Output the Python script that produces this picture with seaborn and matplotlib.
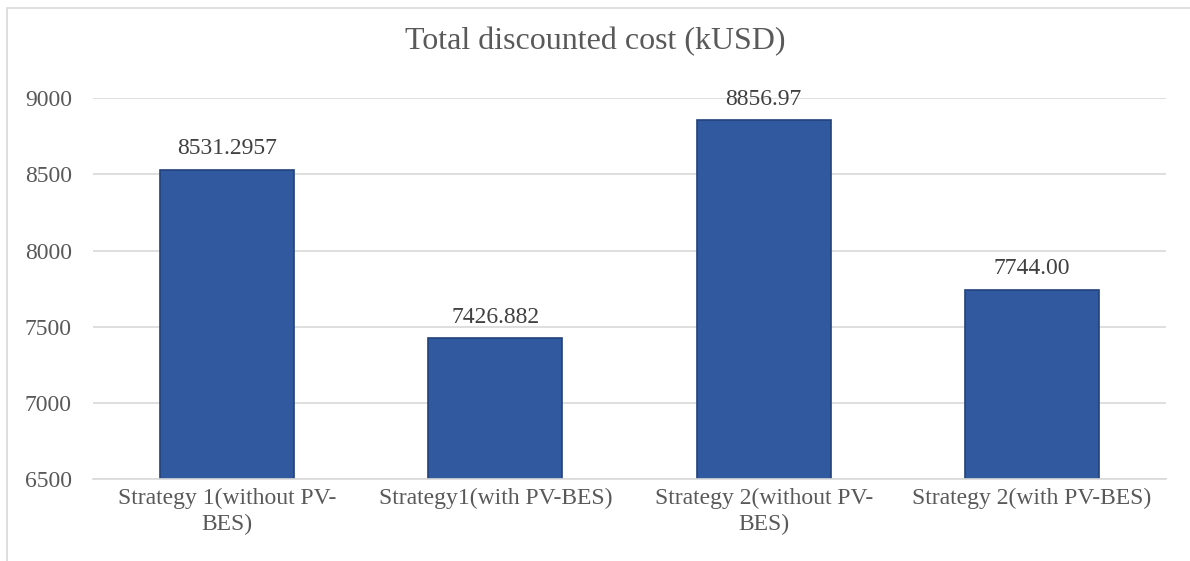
import matplotlib
matplotlib.use("Agg")
import matplotlib.pyplot as plt
import seaborn as sns
import pandas as pd
from matplotlib.patches import Rectangle

categories = ["Strategy 1(without PV-\nBES)", "Strategy1(with PV-BES)",
              "Strategy 2(without PV-\nBES)", "Strategy 2(with PV-BES)"]
costs = [8531.2957, 7426.882, 8856.97, 7744.00]
labels = ["8531.2957", "7426.882", "8856.97", "7744.00"]
yticks = [6500, 7000, 7500, 8000, 8500, 9000]

sns.set_style("white")
plt.rcParams["font.family"] = ["Liberation Serif", "DejaVu Serif"]

df = pd.DataFrame({"strategy": categories, "cost": costs})

fig = plt.figure(figsize=(11.9, 5.61), dpi=100)
ax = fig.add_axes([0.078, 0.146, 0.902, 0.679])

sns.barplot(data=df, x="strategy", y="cost", color="#3159A0", width=0.5,
            edgecolor="#22427A", linewidth=1.2, saturation=1, ax=ax)

for i, (v, t) in enumerate(zip(costs, labels)):
    ax.text(i, v + 100, t, ha="center", va="baseline", fontsize=17, color="#404040")

ax.set_ylim(6500, 9000)
ax.set_yticks(yticks)
ax.yaxis.grid(True, color="#D9D9D9", linewidth=1.2)
ax.set_axisbelow(True)
for s in ["top", "right", "left"]:
    ax.spines[s].set_visible(False)
ax.spines["bottom"].set_color("#D9D9D9")
ax.spines["bottom"].set_linewidth(1.2)
ax.tick_params(axis="both", length=0, labelsize=17, colors="#595959")
ax.tick_params(axis="x", pad=6)
ax.tick_params(axis="y", pad=15)
for lbl in ax.get_xticklabels():
    lbl.set_linespacing(1.3)
ax.set_xlabel("")
ax.set_ylabel("")

fig.text(0.5, 0.925, "Total discounted cost (kUSD)", ha="center", va="center",
         fontsize=23, color="#595959")

# chart frame
fig.patches.append(Rectangle((0.006, -0.1), 1.1, 1.086, transform=fig.transFigure,
                             fill=False, edgecolor="#D9D9D9", linewidth=1.2))

fig.savefig("out.png", dpi=100)
